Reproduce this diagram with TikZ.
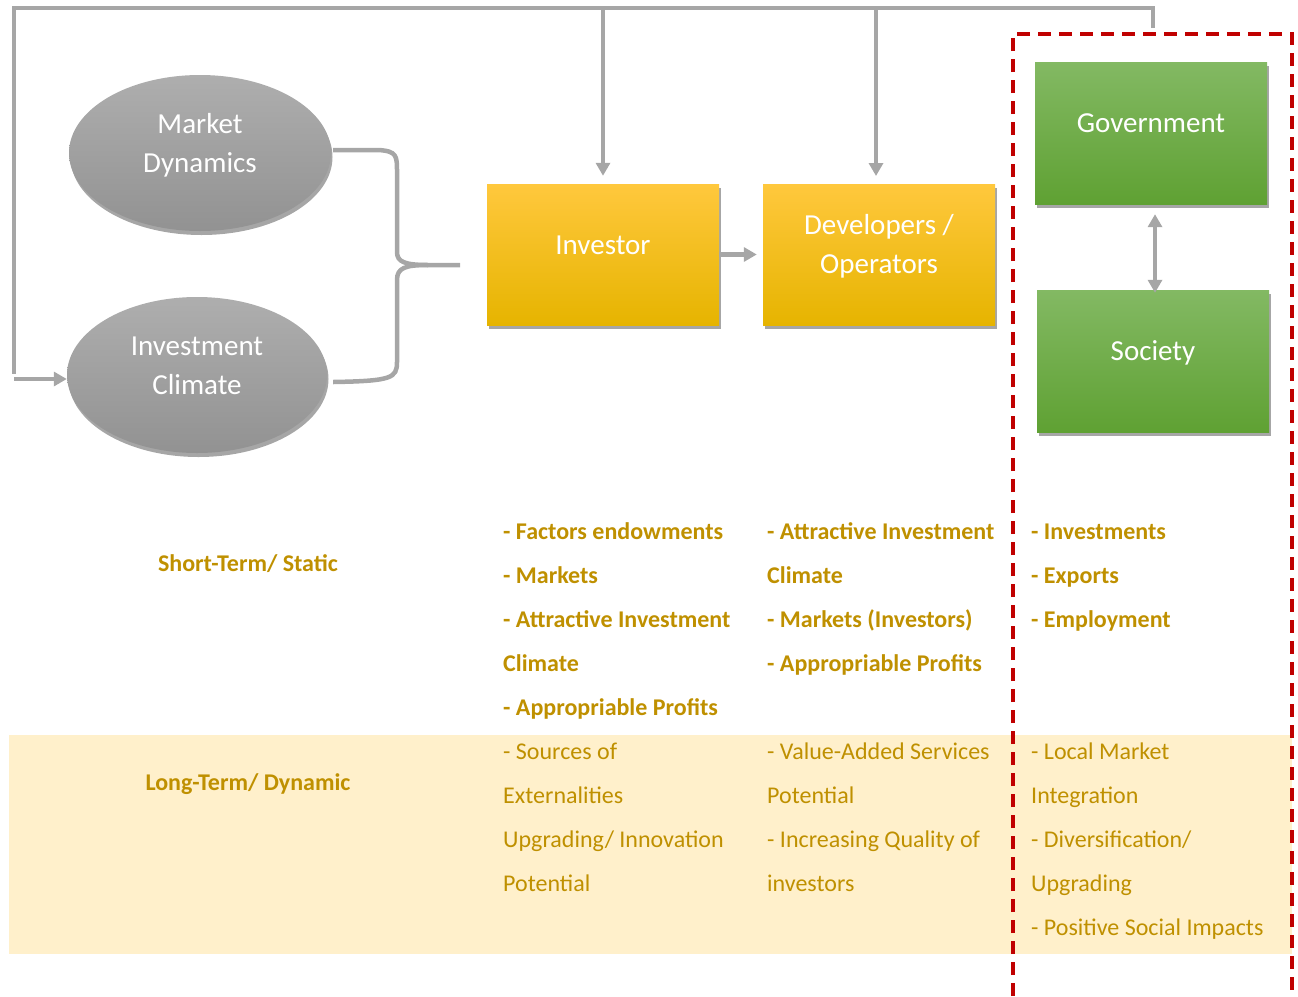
\documentclass[tikz,border=0pt]{standalone}
\usepackage{fontspec}
\setmainfont{Carlito}
\usetikzlibrary{shapes.geometric,arrows.meta,shadows,calc}
\definecolor{lgray}{HTML}{A6A6A6}
\definecolor{txtgold}{HTML}{BF9000}
\definecolor{band}{HTML}{FFF0CB}
\definecolor{dred}{HTML}{C00000}
\definecolor{orT}{HTML}{FFC83D}
\definecolor{orM}{HTML}{FFC400}
\definecolor{orB}{HTML}{E6B400}
\definecolor{grT}{HTML}{83B963}
\definecolor{grB}{HTML}{5FA133}
\definecolor{gyT}{HTML}{AEAEAE}
\definecolor{gyB}{HTML}{929292}
\newcommand{\nodetext}[1]{\raisebox{2pt}[0pt][0pt]{\begin{tabular}{@{}c@{}}#1\end{tabular}}}
\begin{document}
\begin{tikzpicture}[x=1pt,y=-1pt,
  conn/.style={draw=lgray, line width=4.5pt},
  arr/.style={conn, -{Triangle[length=13pt,width=14pt]}},
  darr/.style={conn, {Triangle[length=13pt,width=14pt]}-{Triangle[length=13pt,width=14pt]}},
  shad/.style={drop shadow={shadow xshift=1.5pt, shadow yshift=-4pt, opacity=0.35, fill=black}},
  nodefont/.style={font=\fontsize{29}{39}\selectfont, text=white},
  oval/.style={ellipse, shad, top color=gyT, bottom color=gyB, draw=none, inner sep=0pt, nodefont},
  obox/.style={rectangle, shad, top color=orT, middle color=orM, bottom color=orB, draw=none, minimum width=232pt, minimum height=141pt, inner sep=0pt, nodefont},
  gbox/.style={rectangle, shad, top color=grT, bottom color=grB, draw=none, minimum width=232pt, minimum height=142pt, inner sep=0pt, nodefont},
  stb/.style={font=\fontsize{24}{28}\selectfont\bfseries, text=txtgold, inner sep=0pt, anchor=base west},
  ltb/.style={font=\fontsize{24}{28}\selectfont, text=txtgold, inner sep=0pt, anchor=base west},
  redbox/.style={draw=dred, line width=3.5pt, dash pattern=on 13pt off 8pt}
]
\useasboundingbox (0,0) rectangle (1298,996);
% band
\fill[band] (9,735) rectangle (1292,954);

% ellipses
\node[oval, minimum width=262pt, minimum height=156pt] (md) at (200,153) {\nodetext{Market\\Dynamics}};
\node[oval, minimum width=260pt, minimum height=156pt] (ic) at (197,375) {\nodetext{Investment\\Climate}};

% boxes
\node[obox] (inv) at (603,254.5) {\nodetext{Investor}};
\node[obox] (dev) at (879,254.5) {\nodetext{Developers /\\Operators}};
\node[gbox] (gov) at (1151,133) {\nodetext{Government}};
\node[gbox] (soc) at (1153,361) {\nodetext{Society}};

% frame feedback lines
\coordinate (tl) at (14,8);
\coordinate (tr) at (1153,8);
\coordinate (trend) at (1153,28);
\coordinate (fbend) at (14,379);
\draw[conn] (trend) -- (tr) -- (tl) -- (14,374);
\draw[arr] (fbend) -- (ic.west |- fbend);
\draw[arr, shorten >=8pt] (inv.north |- tl) -- (inv.north);
\coordinate (dtop) at (876,184);
\draw[arr, shorten >=8pt] (dtop |- tl) -- (dtop);

% brace
\coordinate (tip) at (460,265);
\draw[conn] (md.east) ++(2,-3) -- (378,150) .. controls (397,151) and (397,156) .. (397,172)
  -- (397,252) .. controls (397,262) and (405,265) .. (428,265) -- (tip);
\draw[conn] (428,265) .. controls (405,265) and (397,268) .. (397,280)
  -- (397,362) .. controls (397,378) and (392,381) .. ($(ic.east)+(6,7)$);

% arrows between boxes
\draw[arr, shorten >=6pt] (inv.east) -- (dev.west);
\draw[darr, shorten <=10pt, shorten >=-3pt] ([xshift=4pt]gov.south) -- ([xshift=2pt]soc.north);

% red dashed box
\draw[redbox] (1013,996) -- (1013,34) -- (1292,34) -- (1292,996);

% row labels
\node[stb, anchor=base] (st) at (248,571) {Short-Term/ Static};
\node[stb, anchor=base] (lt) at (248,790) {Long-Term/ Dynamic};

% short-term columns
\foreach \t [count=\i] in {{- Factors endowments},{- Markets},{- Attractive Investment},{Climate},{- Appropriable Profits}}
  \node[stb] (is\i) at (503,539+44*\i-44) {\t};
\foreach \t [count=\i] in {{- Attractive Investment},{Climate},{- Markets (Investors)},{- Appropriable Profits}}
  \node[stb] (ds\i) at (767,539+44*\i-44) {\t};
\foreach \t [count=\i] in {{- Investments},{- Exports},{- Employment}}
  \node[stb] (gs\i) at (1031,539+44*\i-44) {\t};

% long-term columns
\foreach \t [count=\i] in {{- Sources of},{Externalities},{Upgrading/ Innovation},{Potential}}
  \node[ltb] (il\i) at (503,759+44*\i-44) {\t};
\foreach \t [count=\i] in {{- Value-Added Services},{Potential},{- Increasing Quality of},{investors}}
  \node[ltb] (dl\i) at (767,759+44*\i-44) {\t};
\foreach \t [count=\i] in {{- Local Market},{Integration},{- Diversification/},{Upgrading},{- Positive Social Impacts}}
  \node[ltb] (gl\i) at (1031,759+44*\i-44) {\t};
\end{tikzpicture}
\end{document}
